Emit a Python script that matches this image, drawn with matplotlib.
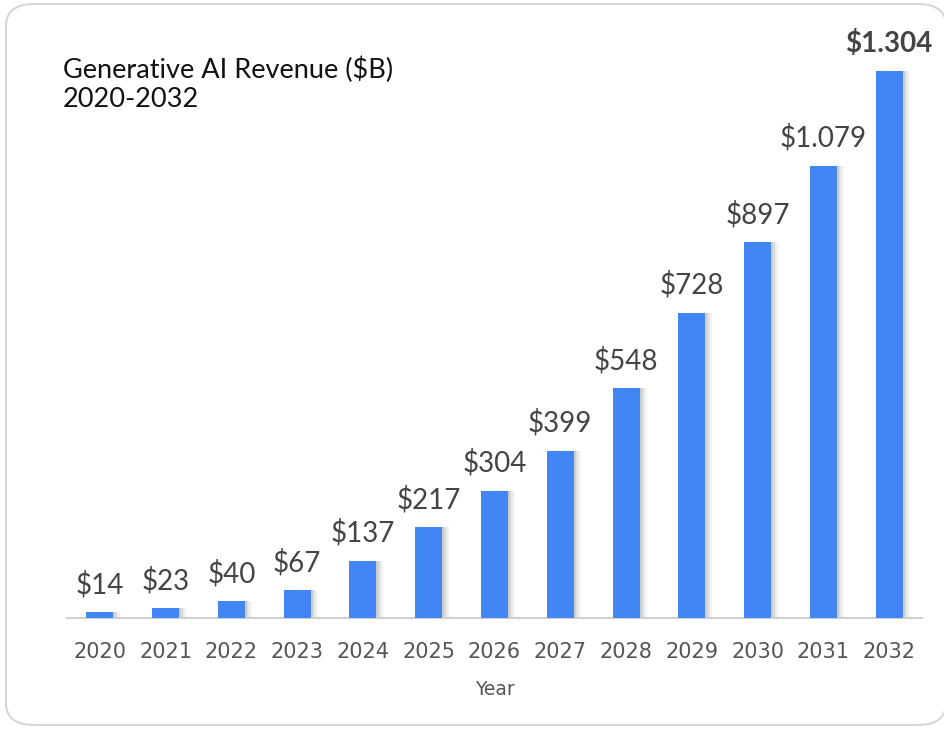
import numpy as np
import matplotlib.pyplot as plt
from matplotlib.patches import FancyBboxPatch

# data
years = ["2020", "2021", "2022", "2023", "2024", "2025", "2026",
         "2027", "2028", "2029", "2030", "2031", "2032"]
revenue = [14, 23, 40, 67, 137, 217, 304, 399, 548, 728, 897, 1079, 1304]
labels = ["$14", "$23", "$40", "$67", "$137", "$217", "$304",
          "$399", "$548", "$728", "$897", "$1.079", "$1.304"]

bar_color = "#4285F4"
W, H = 944, 731

fig = plt.figure(figsize=(W / 100, H / 100), dpi=100)

# rounded card border
card = FancyBboxPatch((6 / W, 6 / H), (W - 4) / W, (H - 10) / H,
                      boxstyle="round,pad=0,rounding_size=0.03",
                      transform=fig.transFigure, facecolor="white",
                      edgecolor="#d6d6d6", linewidth=1.5, zorder=-5)
fig.patches.append(card)

ax = fig.add_axes([67 / W, 1 - 618 / H, 855 / W, 587 / H])
ax.set_zorder(2)
ax.set_facecolor("none")

x = np.arange(len(years))
bw = 0.41

# soft shadow to the right of each bar
for k, a in enumerate([0.14, 0.10, 0.07, 0.05, 0.03]):
    off = (2 + k * 1.5) / 65.8
    ax.bar(x + off, revenue, width=bw, color="#707070", alpha=a,
           zorder=1, linewidth=0)

ax.bar(x, revenue, width=bw, color=bar_color, zorder=3, linewidth=0)

for i, (v, lab) in enumerate(zip(revenue, labels)):
    last = i == len(revenue) - 1
    ax.annotate(lab, (x[i], v), xytext=(0, 10), textcoords="offset points",
                ha="center", va="bottom", fontsize=20, family="Lato",
                color="#444444", fontweight="bold" if last else "normal")

ax.set_xlim(-0.5, len(years) - 0.5)
ax.set_ylim(0, 1400)
ax.set_xticks(x)
ax.set_xticklabels(years, fontsize=15, color="#555555", family="DejaVu Sans")
ax.tick_params(axis="x", length=0, pad=17)
ax.set_yticks([])
for s in ["top", "right", "left"]:
    ax.spines[s].set_visible(False)
ax.spines["bottom"].set_color("#d0d0d0")
ax.spines["bottom"].set_linewidth(1.5)
ax.set_xlabel("Year", fontsize=13.5, color="#555555", family="DejaVu Sans",
              labelpad=13)

fig.text(63 / W, 1 - 84 / H, "Generative AI Revenue ($B)\n2020-2032",
         fontsize=19.5, family="Lato", color="#111111", va="center",
         ha="left", linespacing=1.2)

fig.savefig("out.png", dpi=100)
